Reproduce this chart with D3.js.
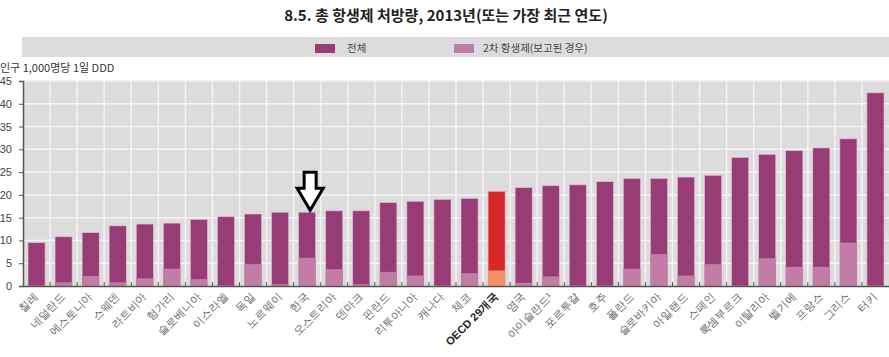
<!DOCTYPE html>
<html><head><meta charset="utf-8">
<script src="https://cdn.jsdelivr.net/npm/d3@7"></script>
<style>body{margin:0;background:#fff;}svg{display:block;font-family:"Noto Sans CJK KR","Noto Sans",sans-serif;}</style>
</head><body><svg id="c" width="889" height="357"></svg>
<script>
const categories = ["칠레","네덜란드","에스토니아","스웨덴","라트비아","헝가리","슬로베니아","이스라엘","독일","노르웨이","한국","오스트리아","덴마크","핀란드","리투아니아","캐나다","체코","OECD 29개국","영국","아이슬란드¹","포르투갈","호주","폴란드","슬로바키아","아일랜드","스페인","룩셈부르크","이탈리아","벨기에","프랑스","그리스","터키"];
const totalValues = [9.5,10.8,11.7,13.2,13.6,13.8,14.6,15.2,15.8,16.2,16.2,16.5,16.5,18.3,18.6,19.0,19.2,20.8,21.6,22.0,22.2,22.9,23.6,23.6,23.9,24.3,28.2,28.9,29.7,30.3,32.3,42.4];
const secondValues = [0,0.8,2.2,0.8,1.7,3.8,1.5,0,4.8,0.4,6.2,3.7,0.4,3.1,2.3,0,2.8,3.4,0.7,2.1,0,0,3.8,7.0,2.3,4.8,0,6.1,4.2,4.2,9.5,0];
const yTicks = [0,5,10,15,20,25,30,35,40,45];
const legendLabels = ["전체","2차 항생제(보고된 경우)"];
const titleText = "8.5. 총 항생제 처방량, 2013년(또는 가장 최근 연도)";
const unitText = "인구 1,000명당 1일 DDD";
const highlight = "OECD 29개국";
const arrowAt = "한국";

const svg = d3.select("#c");
const L = 23, R = 889, T = 80, B = 286;
const x = d3.scaleBand().domain(categories).range([L, R]).padding(0);
const y = d3.scaleLinear().domain([0, 45]).range([B, 81]);
const dark = "#973c74", light = "#c27da6", red = "#d8262a", salmon = "#f2906c";

svg.append("text").attr("x", 446).attr("y", 21).attr("text-anchor", "middle")
  .attr("font-size", 15).attr("font-weight", 700).attr("fill", "#222").text(titleText);

// legend strip
svg.append("rect").attr("x", 22).attr("y", 37).attr("width", R - 22).attr("height", 20).attr("fill", "#dcdcdc");
const lg = [{x:315, c:dark},{x:454, c:light}];
lg.forEach((d,i)=>{
  svg.append("rect").attr("x", d.x).attr("y", 44).attr("width", 20).attr("height", 9).attr("fill", d.c);
  svg.append("text").attr("x", d.x + (i===0?32:29)).attr("y", 52).attr("font-size", 10.5).attr("fill", "#444").text(legendLabels[i]);
});

svg.append("text").attr("x", 0).attr("y", 72).attr("font-size", 11).attr("fill", "#333").text(unitText);

// plot background
svg.append("rect").attr("x", L).attr("y", T).attr("width", R - L).attr("height", B - T).attr("fill", "#dcdcdc");
// grid
svg.append("g").selectAll("line").data(yTicks.slice(1)).join("line")
  .attr("x1", L).attr("x2", R).attr("y1", d=>y(d)).attr("y2", d=>y(d)).attr("stroke", "#f4f4f4").attr("stroke-width", 1.5);
svg.append("g").selectAll("line").data(categories.slice(1)).join("line")
  .attr("x1", d=>x(d)).attr("x2", d=>x(d)).attr("y1", T).attr("y2", B).attr("stroke", "#f4f4f4").attr("stroke-width", 1.5);

const bw = x.bandwidth() * 0.63;
const bx = d => x(d) + (x.bandwidth() - bw) / 2;
const bars = svg.append("g");
bars.selectAll("rect.t").data(categories).join("rect").attr("class","t")
  .attr("x", bx).attr("width", bw)
  .attr("y", (d,i)=>y(totalValues[i])).attr("height", (d,i)=>B - y(totalValues[i]))
  .attr("fill", d => d===highlight ? red : dark).attr("stroke", "#e8b9d2").attr("stroke-width", 0.6);
bars.selectAll("rect.s").data(categories).join("rect").attr("class","s")
  .attr("x", bx).attr("width", bw)
  .attr("y", (d,i)=>y(secondValues[i])).attr("height", (d,i)=>B - y(secondValues[i]))
  .attr("fill", d => d===highlight ? salmon : light);

// axes
const ya = svg.append("g").attr("transform", `translate(${L},0)`)
  .call(d3.axisLeft(y).tickValues(yTicks).tickSize(4).tickPadding(7));
ya.select(".domain").attr("stroke", "#555").attr("stroke-width", 1.5);
ya.selectAll(".tick line").attr("stroke", "#555");
ya.selectAll("text").attr("font-size", 11).attr("fill", "#444").attr("font-family", "Arial, Liberation Sans, sans-serif");

const xa = svg.append("g").attr("transform", `translate(0,${B})`)
  .call(d3.axisBottom(x).tickSize(0).tickPadding(0));
xa.select(".domain").attr("stroke", "#555").attr("stroke-width", 1.5);
xa.selectAll(".tick line").remove();
svg.append("g").selectAll("line").data(categories.slice(1)).join("line")
  .attr("x1", d=>x(d)).attr("x2", d=>x(d)).attr("y1", B).attr("y2", B-4).attr("stroke", "#555");
xa.selectAll(".tick text")
  .attr("text-anchor", "end")
  .attr("transform", "translate(-3,6) rotate(-45)")
  .attr("dy", "0.7em").attr("y", 0)
  .attr("font-size", 11)
  .attr("font-weight", d => d===highlight ? 700 : 500)
  .attr("fill", d => d===highlight ? "#222" : "#666");

// arrow above Korea
const acx = x(arrowAt) + x.bandwidth()/2 + 3;
const barTop = y(totalValues[categories.indexOf(arrowAt)]);
const ay = barTop - 2;
const ap = d3.path();
ap.moveTo(acx - 6, ay - 38); ap.lineTo(acx + 6, ay - 38); ap.lineTo(acx + 6, ay - 22);
ap.lineTo(acx + 13, ay - 22); ap.lineTo(acx, ay); ap.lineTo(acx - 13, ay - 22);
ap.lineTo(acx - 6, ay - 22); ap.closePath();
svg.append("path").attr("d", ap.toString()).attr("fill", "#fff").attr("stroke", "#000").attr("stroke-width", 3).attr("stroke-linejoin", "miter");
</script></body></html>
